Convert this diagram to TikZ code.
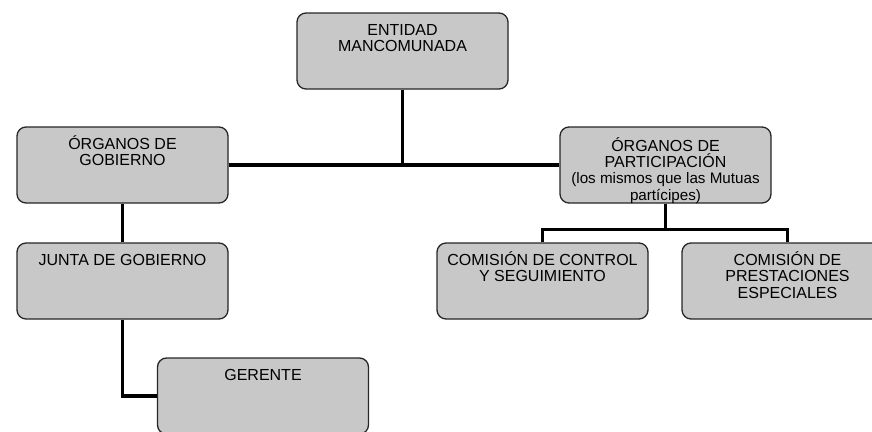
\documentclass[tikz,border=0pt]{standalone}
\usepackage{fontspec}
\setmainfont{Liberation Sans}
\usepackage{tikz}
\definecolor{boxgray}{RGB}{200,200,200}

% text block of a box, first baseline at #1 from its top
\newcommand{\boxtext}[2][17pt]{\parbox[c][66pt][t]{209pt}{\centering\rule{0pt}{#1}#2}}

\begin{document}
\begin{tikzpicture}[x=1pt, y=-1pt,
    orgbox/.style={draw=black!85, fill=boxgray, line width=1.3pt,
        rounded corners=9pt, inner xsep=1pt, inner ysep=5pt,
        minimum width=211pt, minimum height=76pt,
        font=\fontsize{16}{16.5}\selectfont},
    link/.style={line width=3.5pt}]
    \clip (0,0) rectangle (872,431);

    % body
    \node[orgbox] (ent) at (402.5,51) {\boxtext{ENTIDAD\\MANCOMUNADA}};
    \node[orgbox] (gob) at (122.5,165) {\boxtext{ÓRGANOS DE\\GOBIERNO}};
    \node[orgbox] (par) at (665.5,165) {\boxtext[19pt]{\baselineskip=16pt ÓRGANOS DE\\PARTICIPACIÓN\\
        {\fontsize{15.2}{16}\selectfont (los mismos que las Mutuas\\[1.5pt] partícipes)}}};
    \node[orgbox] (jun) at (122.5,281) {\boxtext{JUNTA DE GOBIERNO}};
    \node[orgbox] (con) at (542.5,281) {\boxtext{COMISIÓN DE CONTROL\\Y SEGUIMIENTO}};
    \node[orgbox] (pre) at (787.5,281) {\boxtext{COMISIÓN DE\\PRESTACIONES\\ESPECIALES}};
    \node[orgbox] (ger) at (263,396) {\boxtext{GERENTE}};

    % links
    \draw[link] (gob.east) -- (par.west);
    \draw[link] (ent.south) -- (ent.south |- gob.east);
    \draw[link] (gob.south) -- (jun.north);
    \draw[link] (jun.south) |- (ger.west);
    \coordinate (split) at ([yshift=-26pt]par.south);
    \draw[link] (par.south) -- (split);
    \draw[link] (con.north) |- (split) -| (pre.north);
\end{tikzpicture}
\end{document}
